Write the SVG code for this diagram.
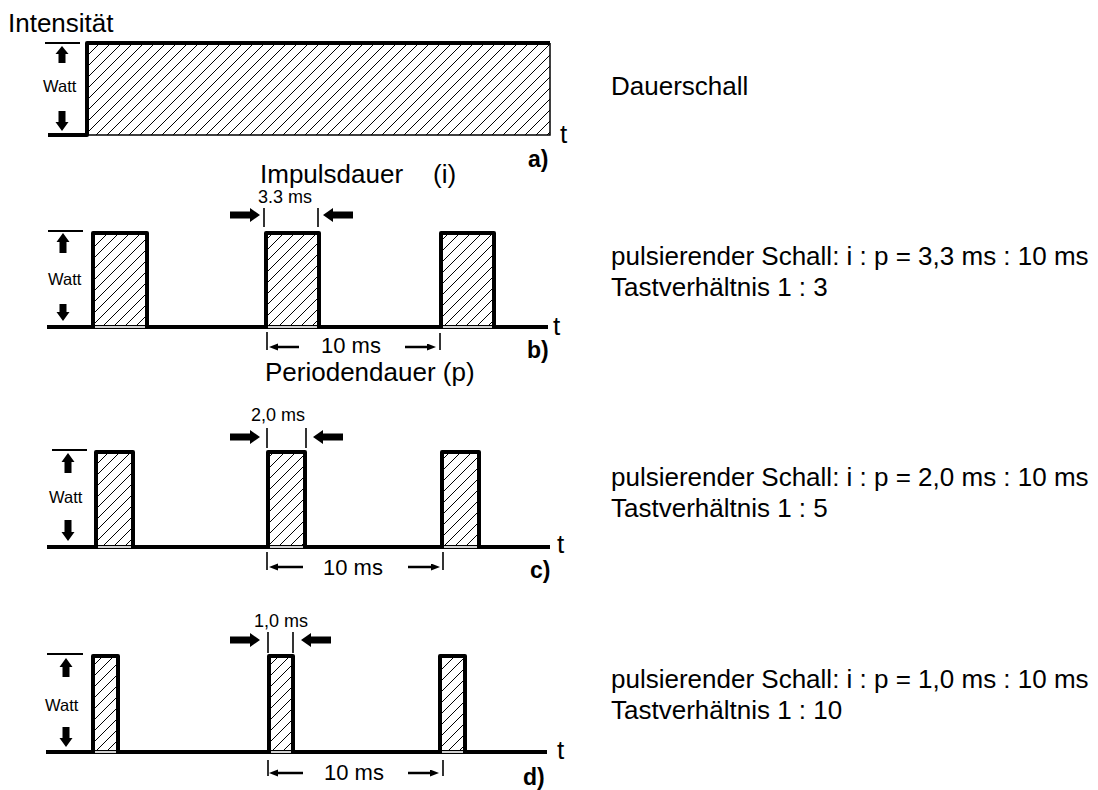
<svg xmlns="http://www.w3.org/2000/svg" width="1098" height="790" viewBox="0 0 1098 790">
<style>
text{font-family:"Liberation Sans",Arial,sans-serif;fill:#000}
.big{font-size:26px}
.lbl{font-size:23px;font-weight:bold}
.sm{font-size:18px}
.w{font-size:16.5px}
.mid{font-size:22px}
.base{stroke:#000;stroke-width:4;fill:none}
.pulse{stroke:#000;stroke-width:4;fill:none;stroke-linejoin:round}
.gap{stroke:#d0d0d0;stroke-width:2}
.tick{stroke:#000;stroke-width:2}
.dim{stroke:#000;stroke-width:1.6}
.thin{stroke:#000;stroke-width:2.5;fill:none;marker-end:url(#ah)}
.blk{fill:#000}
</style>
<defs>
<pattern id="hatch" patternUnits="userSpaceOnUse" width="11" height="11">
<path d="M-1,12 L12,-1 M-2,2 L2,-2 M9,13 L13,9" stroke="#000" stroke-width="1"/>
</pattern>
<marker id="ah" markerUnits="userSpaceOnUse" markerWidth="9" markerHeight="8" refX="4" refY="3.5" orient="auto">
<path d="M0,0 L9,3.5 L0,7 Z" fill="#000"/>
</marker>
<path id="bR" d="M-30,-3.5 H-10 V-7 L0,0 L-10,7 V3.5 H-30 Z"/>
<path id="bL" d="M0,0 L10,-7 V-3.5 H30 V3.5 H10 V7 Z"/>
</defs>

<g id="title"><text class="big" x="8" y="32">Intensität</text></g>

<g id="panel-a">
<rect x="87" y="43" width="463" height="92" fill="url(#hatch)"/>
<path d="M87,135 H550 V43" stroke="#000" stroke-width="1.5" fill="none"/>
<path d="M48,135 H87 V43 H550" class="pulse"/>
<line x1="45" y1="43" x2="80" y2="43" class="tick"/>
<path class="blk" d="M62,46 L68.5,54 H65.5 V63 H58.5 V54 H55.5 Z"/>
<text class="w" x="43" y="92">Watt</text>
<path class="blk" d="M62,131 L68.5,122 H65.5 V111 H58.5 V122 H55.5 Z"/>
<text class="big" x="560" y="143">t</text>
<text class="lbl" x="528" y="167">a)</text>
<text class="big" x="611" y="95">Dauerschall</text>
</g>

<g id="panel-b">
<line x1="47" y1="327" x2="548" y2="327" class="base"/>
<rect x="93" y="233" width="54" height="94" fill="url(#hatch)"/>
<rect x="266" y="233" width="53" height="94" fill="url(#hatch)"/>
<rect x="441" y="233" width="53" height="94" fill="url(#hatch)"/>
<line x1="95" y1="327" x2="145" y2="327" class="gap"/>
<line x1="268" y1="327" x2="317" y2="327" class="gap"/>
<line x1="443" y1="327" x2="492" y2="327" class="gap"/>
<path d="M93,327 V233 H147 V327" class="pulse"/>
<path d="M266,327 V233 H319 V327" class="pulse"/>
<path d="M441,327 V233 H494 V327" class="pulse"/>
<line x1="48" y1="231" x2="83" y2="231" class="tick"/>
<path class="blk" d="M63,233 L69.5,242 H66.5 V253 H59.5 V242 H56.5 Z"/>
<text class="w" x="48" y="285">Watt</text>
<path class="blk" d="M63,321 L69.5,312 H66.5 V304 H59.5 V312 H56.5 Z"/>
<text class="big" x="553" y="335">t</text>
<text class="lbl" x="527" y="358">b)</text>
<text class="big" x="260" y="183">Impulsdauer</text>
<text class="big" x="433" y="183">(i)</text>
<text class="sm" x="258" y="203">3.3 ms</text>
<text class="mid" x="321" y="353">10 ms</text>
<text class="big" x="265" y="381">Periodendauer (p)</text>
<text class="big" x="611" y="265">pulsierender Schall: i : p = 3,3 ms : 10 ms</text>
<text class="big" x="611" y="296">Tastverhältnis 1 : 3</text>
</g>

<g id="panel-c">
<line x1="47" y1="547" x2="550" y2="547" class="base"/>
<rect x="96" y="452" width="37" height="95" fill="url(#hatch)"/>
<rect x="268" y="452" width="37" height="95" fill="url(#hatch)"/>
<rect x="442" y="452" width="37" height="95" fill="url(#hatch)"/>
<line x1="98" y1="547" x2="131" y2="547" class="gap"/>
<line x1="270" y1="547" x2="303" y2="547" class="gap"/>
<line x1="444" y1="547" x2="477" y2="547" class="gap"/>
<path d="M96,547 V452 H133 V547" class="pulse"/>
<path d="M268,547 V452 H305 V547" class="pulse"/>
<path d="M442,547 V452 H479 V547" class="pulse"/>
<line x1="52" y1="450" x2="87" y2="450" class="tick"/>
<path class="blk" d="M68,453 L74.5,462 H71.5 V473 H64.5 V462 H61.5 Z"/>
<text class="w" x="49" y="503">Watt</text>
<path class="blk" d="M68,541 L74.5,532 H71.5 V520 H64.5 V532 H61.5 Z"/>
<text class="big" x="557" y="553">t</text>
<text class="lbl" x="530" y="578">c)</text>
<text class="sm" x="251" y="421">2,0 ms</text>
<text class="mid" x="323" y="575">10 ms</text>
<text class="big" x="611" y="486">pulsierender Schall: i : p = 2,0 ms : 10 ms</text>
<text class="big" x="611" y="517">Tastverhältnis 1 : 5</text>
</g>

<g id="panel-d">
<line x1="46" y1="752" x2="547" y2="752" class="base"/>
<rect x="93" y="656" width="25" height="96" fill="url(#hatch)"/>
<rect x="269" y="656" width="24" height="96" fill="url(#hatch)"/>
<rect x="440" y="656" width="25" height="96" fill="url(#hatch)"/>
<line x1="95" y1="752" x2="116" y2="752" class="gap"/>
<line x1="271" y1="752" x2="291" y2="752" class="gap"/>
<line x1="442" y1="752" x2="463" y2="752" class="gap"/>
<path d="M93,752 V656 H118 V752" class="pulse"/>
<path d="M269,752 V656 H293 V752" class="pulse"/>
<path d="M440,752 V656 H465 V752" class="pulse"/>
<line x1="47" y1="654" x2="83" y2="654" class="tick"/>
<path class="blk" d="M66,658 L72.5,667 H69.5 V677 H62.5 V667 H59.5 Z"/>
<text class="w" x="45" y="711">Watt</text>
<path class="blk" d="M66,747 L72.5,738 H69.5 V727 H62.5 V738 H59.5 Z"/>
<text class="big" x="557" y="759">t</text>
<text class="lbl" x="523" y="785">d)</text>
<text class="sm" x="254" y="627">1,0 ms</text>
<text class="mid" x="324" y="780">10 ms</text>
<text class="big" x="611" y="688">pulsierender Schall: i : p = 1,0 ms : 10 ms</text>
<text class="big" x="611" y="719">Tastverhältnis 1 : 10</text>
</g>

<g id="connectors">
<line x1="264" y1="208" x2="264" y2="227" class="dim"/>
<line x1="318" y1="208" x2="318" y2="227" class="dim"/>
<use href="#bR" class="blk" x="260" y="215"/>
<use href="#bL" class="blk" x="323" y="215"/>
<line x1="267" y1="332" x2="267" y2="350" class="dim"/>
<line x1="440" y1="333" x2="440" y2="350" class="dim"/>
<line x1="299" y1="347" x2="274" y2="347" class="thin"/>
<line x1="405" y1="347" x2="431" y2="347" class="thin"/>

<line x1="267" y1="428" x2="267" y2="448" class="dim"/>
<line x1="306" y1="428" x2="306" y2="448" class="dim"/>
<use href="#bR" class="blk" x="260" y="437"/>
<use href="#bL" class="blk" x="313" y="437"/>
<line x1="267" y1="552" x2="267" y2="570" class="dim"/>
<line x1="443" y1="552" x2="443" y2="570" class="dim"/>
<line x1="303" y1="567" x2="274" y2="567" class="thin"/>
<line x1="408" y1="567" x2="435" y2="567" class="thin"/>

<line x1="268" y1="632" x2="268" y2="653" class="dim"/>
<line x1="293" y1="632" x2="293" y2="653" class="dim"/>
<use href="#bR" class="blk" x="260" y="640"/>
<use href="#bL" class="blk" x="301" y="640"/>
<line x1="268" y1="760" x2="268" y2="776" class="dim"/>
<line x1="443" y1="760" x2="443" y2="776" class="dim"/>
<line x1="303" y1="773" x2="274" y2="773" class="thin"/>
<line x1="408" y1="773" x2="434" y2="773" class="thin"/>
</g>
</svg>
